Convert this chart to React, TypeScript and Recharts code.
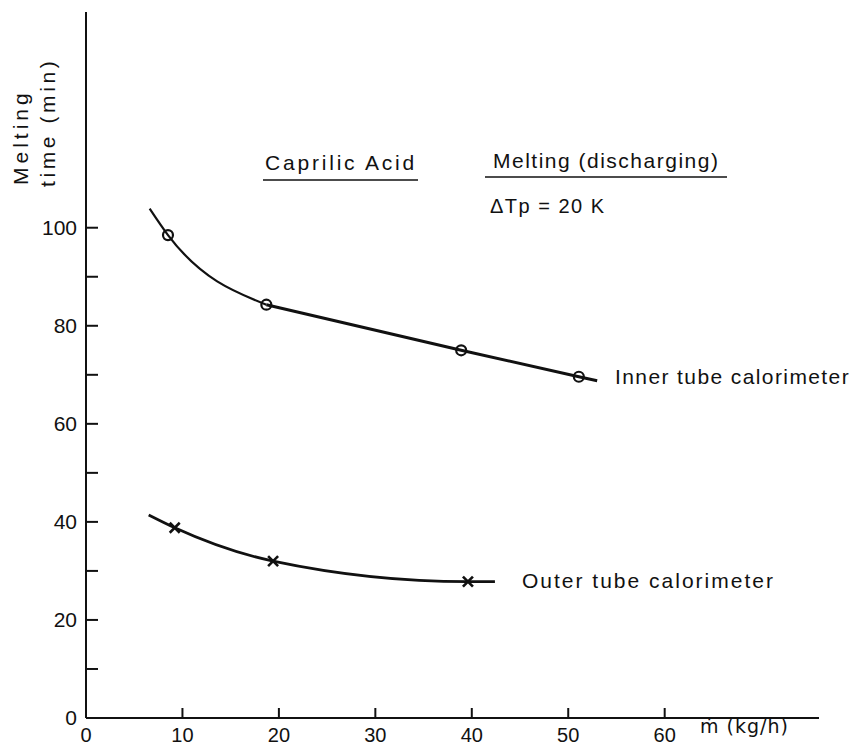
import {
  ComposedChart,
  Customized,
  Line,
  Scatter,
  XAxis,
  YAxis,
} from 'recharts';

// measured points (circles / crosses)
const innerPoints = [
  { x: 8.5, y: 98.5 },
  { x: 18.7, y: 84.3 },
  { x: 38.9, y: 75.0 },
  { x: 51.1, y: 69.6 },
];
const outerPoints = [
  { x: 9.2, y: 38.8 },
  { x: 19.4, y: 32.0 },
  { x: 39.6, y: 27.8 },
];

// hand-drawn fit for the inner tube: curved part, then a straight run
const innerCurveBend = [
  { x: 6.6, y: 103.9 },
  { x: 8.5, y: 98.5 },
  { x: 18.7, y: 84.3 },
];
const innerCurveStraight = [
  { x: 18.7, y: 84.3 },
  { x: 38.9, y: 75.0 },
  { x: 51.1, y: 69.6 },
  { x: 53.0, y: 68.8 },
];
const outerCurve = [
  { x: 6.5, y: 41.4 },
  { x: 9.2, y: 38.8 },
  { x: 19.4, y: 32.0 },
  { x: 39.6, y: 27.8 },
  { x: 42.4, y: 27.8 },
];

const xTicks = [0, 10, 20, 30, 40, 50, 60];
const yTicks = [0, 10, 20, 30, 40, 50, 60, 70, 80, 90, 100];

const FONT = '"Liberation Sans", "DejaVu Sans", sans-serif';
const INK = '#111';

function YTick(props: any) {
  const { x, y, payload } = props;
  const v = payload.value as number;
  return (
    <g>
      <line x1={x} x2={x + 12} y1={y} y2={y} stroke={INK} strokeWidth={2} />
      {v % 20 === 0 && (
        <text
          x={x - 9}
          y={y + 7}
          textAnchor="end"
          fontSize={21}
          fontFamily={FONT}
          fill={INK}
        >
          {v}
        </text>
      )}
    </g>
  );
}

function XTick(props: any) {
  const { x, y, payload } = props;
  const v = payload.value as number;
  return (
    <g>
      {v !== 0 && (
        <line x1={x} x2={x} y1={y} y2={y - 10} stroke={INK} strokeWidth={2} />
      )}
      <text
        x={x}
        y={y + 24}
        textAnchor="middle"
        fontSize={20}
        fontFamily={FONT}
        fill={INK}
      >
        {v}
      </text>
    </g>
  );
}

function OpenCircle(props: any) {
  const { cx, cy } = props;
  return <circle cx={cx} cy={cy} r={5} fill="none" stroke={INK} strokeWidth={2.2} />;
}

function Cross(props: any) {
  const { cx, cy } = props;
  const d = 5;
  return (
    <g stroke={INK} strokeWidth={2.6}>
      <line x1={cx - d} y1={cy - d} x2={cx + d} y2={cy + d} />
      <line x1={cx - d} y1={cy + d} x2={cx + d} y2={cy - d} />
    </g>
  );
}

function Annotations() {
  const t = { fontFamily: FONT, fill: INK, fontSize: 21 };
  return (
    <g>
      <text x={28} y={185} transform="rotate(-90 28 185)" {...t} letterSpacing={4}>
        Melting
      </text>
      <text x={55} y={187} transform="rotate(-90 55 187)" {...t} letterSpacing={3.6}>
        time (min)
      </text>

      <text x={265} y={170} {...t} letterSpacing={2.8}>
        Caprilic  Acid
      </text>
      <line x1={263} x2={418} y1={180} y2={180} stroke={INK} strokeWidth={1.6} />

      <text x={493} y={168} {...t} letterSpacing={1.5}>
        Melting (discharging)
      </text>
      <line x1={485} x2={727} y1={177} y2={177} stroke={INK} strokeWidth={1.6} />

      <text x={490} y={213} {...t} fontSize={20} letterSpacing={1.5}>
        ΔTp = 20 K
      </text>

      <text x={615} y={384} {...t} letterSpacing={1.4}>
        Inner  tube calorimeter
      </text>
      <text x={522} y={588} {...t} letterSpacing={2}>
        Outer  tube  calorimeter
      </text>

      <text
        x={700}
        y={733}
        fontFamily='"DejaVu Sans", sans-serif'
        fill={INK}
        fontSize={19}
        letterSpacing={1}
      >
        ṁ (kg/h)
      </text>
    </g>
  );
}

export default function App() {
  return (
    <div style={{ position: 'absolute', left: 0, top: 0, background: '#fff' }}>
      <ComposedChart
        width={853}
        height={748}
        margin={{ top: 12, right: 34, bottom: 0, left: 26 }}
      >
        <XAxis
          type="number"
          dataKey="x"
          domain={[0, 76]}
          ticks={xTicks}
          tick={<XTick />}
          tickLine={false}
          tickSize={0}
          tickMargin={0}
          axisLine={{ stroke: INK, strokeWidth: 2 }}
          height={30}
          allowDataOverflow
        />
        <YAxis
          type="number"
          domain={[0, 144]}
          ticks={yTicks}
          tick={<YTick />}
          tickLine={false}
          tickSize={0}
          tickMargin={0}
          axisLine={{ stroke: INK, strokeWidth: 2 }}
          width={60}
          allowDataOverflow
        />
        <Line
          data={innerCurveBend}
          dataKey="y"
          type="monotone"
          stroke={INK}
          strokeWidth={2.2}
          dot={false}
          activeDot={false}
          isAnimationActive={false}
        />
        <Line
          data={innerCurveStraight}
          dataKey="y"
          type="linear"
          stroke={INK}
          strokeWidth={3}
          dot={false}
          activeDot={false}
          isAnimationActive={false}
        />
        <Line
          data={outerCurve}
          dataKey="y"
          type="monotone"
          stroke={INK}
          strokeWidth={2.8}
          dot={false}
          activeDot={false}
          isAnimationActive={false}
        />
        <Scatter
          data={innerPoints}
          dataKey="y"
          shape={<OpenCircle />}
          isAnimationActive={false}
        />
        <Scatter
          data={outerPoints}
          dataKey="y"
          shape={<Cross />}
          isAnimationActive={false}
        />
        <Customized component={<Annotations />} />
      </ComposedChart>
    </div>
  );
}
